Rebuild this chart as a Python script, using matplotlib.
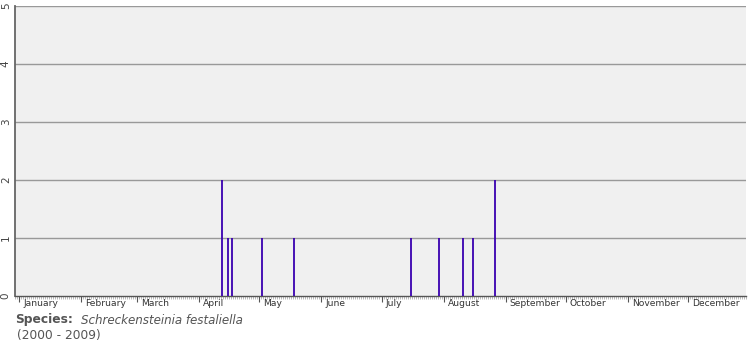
import matplotlib
matplotlib.use("Agg")
import matplotlib.pyplot as plt
import numpy as np
from matplotlib.transforms import blended_transform_factory

months = ["January", "February", "March", "April", "May", "June", "July",
          "August", "September", "October", "November", "December"]
month_days = [31, 28, 31, 30, 31, 30, 31, 31, 30, 31, 30, 31]
record_days = [103, 106, 108, 123, 139, 197, 211, 223, 228, 239]
record_counts = [2, 1, 1, 1, 1, 1, 1, 1, 1, 2]
y_ticks = [0, 1, 2, 3, 4, 5]
species = "Schreckensteinia festaliella"
years = "(2000 - 2009)"

W, H = 755, 350
fig = plt.figure(figsize=(W / 100, H / 100), dpi=100)
fig.patch.set_facecolor("white")
ax = fig.add_axes([15 / W, (H - 296) / H, (746 - 15) / W, (296 - 6) / H])
ax.set_facecolor("#f0f0f0")
ax.set_xlim(0, 365)
ax.set_ylim(0, 5)

for y in y_ticks[1:]:
    ax.axhline(y, color="#999999", lw=1.0, zorder=1)

xs = np.array(record_days) + 0.5
ax.vlines(xs, 0, record_counts, color="#3a00b0", lw=1.3, zorder=3)

for s in ["top", "right"]:
    ax.spines[s].set_visible(False)
ax.spines["left"].set_color("#666666")
ax.spines["left"].set_linewidth(1.3)
ax.spines["bottom"].set_color("#555555")
ax.spines["bottom"].set_linewidth(1.0)

ax.set_yticks(y_ticks)
ax.set_yticklabels([str(v) for v in y_ticks], rotation=90, va="center",
                   fontsize=7.5, color="#444444")
ax.tick_params(axis="y", length=0, pad=3)

starts = np.concatenate([[0], np.cumsum(month_days)[:-1]])
ax.set_xticks(starts + 2)
ax.set_xticklabels([])
ax.set_xticks(np.arange(0, 366, 1), minor=True)
ax.tick_params(axis="x", which="major", length=4, width=0.8, color="#555555")
ax.tick_params(axis="x", which="minor", length=2, width=0.4, color="#888888")

tr = blended_transform_factory(ax.transData, ax.transAxes)
for m, s in zip(months, starts):
    ax.text(s + 4, -0.012, m, transform=tr, ha="left", va="top",
            fontsize=6.6, color="#333333")

fig.text(15 / W, 1 - 320 / H, "Species:", fontsize=8.8, fontweight="bold",
         color="#555555", va="center", ha="left")
fig.text(81 / W, 1 - 320 / H, species, fontsize=8.6, style="italic",
         color="#555555", va="center", ha="left")
fig.text(17 / W, 1 - 335 / H, years, fontsize=8.8, color="#555555",
         va="center", ha="left")

fig.savefig("out.png", dpi=100)
